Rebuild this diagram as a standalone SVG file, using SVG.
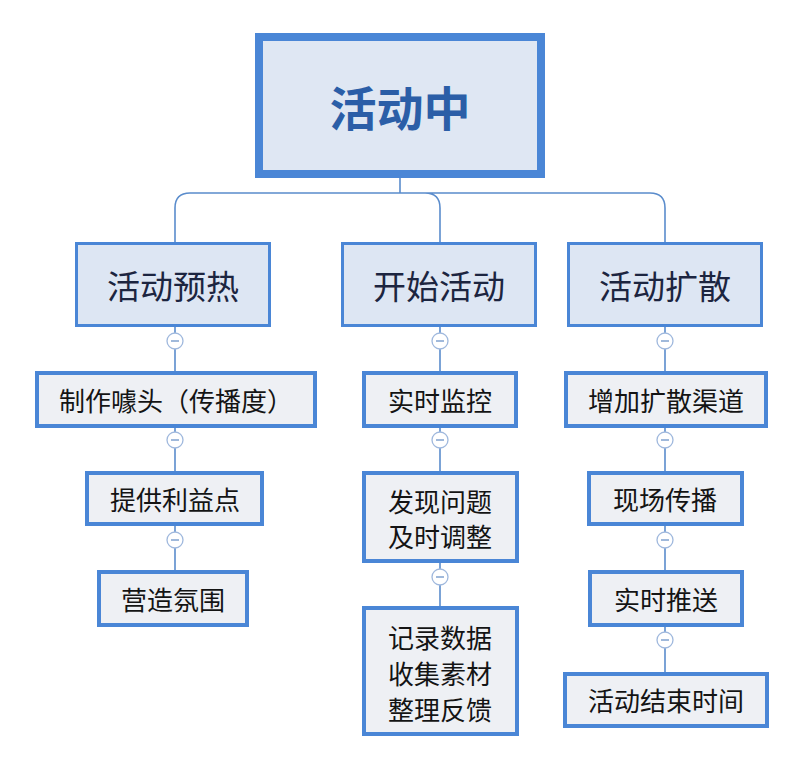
<svg xmlns="http://www.w3.org/2000/svg" width="802" height="768" viewBox="0 0 802 768">
<style>
text{font-family:"Noto Sans CJK SC","Noto Sans",sans-serif;text-anchor:middle;dominant-baseline:central}
.root{fill:#dfe7f3;stroke:#4a86d6;stroke-width:8}
.l1{fill:#dde6f3;stroke:#4a86d6;stroke-width:3}
.l2{fill:#eef0f4;stroke:#4a86d6;stroke-width:4}
.t0{font-size:47px;font-weight:bold;fill:#2b5ea7}
.t1{font-size:33px;fill:#1c2540}
.t2{font-size:26px;fill:#141414}
.ln{fill:none;stroke:#5a8ccc;stroke-width:1.6}
.cb circle{fill:#fff;stroke:#9fb8dd;stroke-width:1.3}
.cb line{stroke:#6d93c8;stroke-width:1.3}
</style>
<rect width="802" height="768" fill="#fff"/>
<g id="connectors">
<path class="ln" d="M400 178V193M190 193H650M190 193Q175 193 175 208V243M650 193Q665 193 665 208V243M425 193Q440 193 440 208V243"/>
<path class="ln" d="M175 326V371M175 427V471M175 525V570"/>
<path class="ln" d="M440 326V371M440 427V471M440 562V606"/>
<path class="ln" d="M665 326V371M665 427V471M665 525V570M665 626V672"/>
</g>
<g class="cb" id="collapse-buttons">
<g><circle cx="175" cy="341" r="8"/><line x1="171" y1="341" x2="179" y2="341"/></g>
<g><circle cx="175" cy="440" r="8"/><line x1="171" y1="440" x2="179" y2="440"/></g>
<g><circle cx="175" cy="540" r="8"/><line x1="171" y1="540" x2="179" y2="540"/></g>
<g><circle cx="440" cy="341" r="8"/><line x1="436" y1="341" x2="444" y2="341"/></g>
<g><circle cx="440" cy="440" r="8"/><line x1="436" y1="440" x2="444" y2="440"/></g>
<g><circle cx="440" cy="577" r="8"/><line x1="436" y1="577" x2="444" y2="577"/></g>
<g><circle cx="665" cy="341" r="8"/><line x1="661" y1="341" x2="669" y2="341"/></g>
<g><circle cx="665" cy="440" r="8"/><line x1="661" y1="440" x2="669" y2="440"/></g>
<g><circle cx="665" cy="540" r="8"/><line x1="661" y1="540" x2="669" y2="540"/></g>
<g><circle cx="665" cy="640" r="8"/><line x1="661" y1="640" x2="669" y2="640"/></g>
</g>
<g id="root"><rect class="root" x="259" y="37" width="282" height="137"/><text class="t0" x="400" y="105">活动中</text></g>
<g id="n-yure"><rect class="l1" x="76.5" y="243.5" width="193" height="82"/><text class="t1" x="173" y="285">活动预热</text></g>
<g id="n-kaishi"><rect class="l1" x="342.5" y="243.5" width="193" height="82"/><text class="t1" x="439" y="285">开始活动</text></g>
<g id="n-kuosan"><rect class="l1" x="568.5" y="243.5" width="193" height="82"/><text class="t1" x="665" y="285">活动扩散</text></g>
<g id="n-zhizuo"><rect class="l2" x="37" y="373" width="278" height="53"/><text class="t2" x="176" y="399">制作噱头（传播度）</text></g>
<g id="n-tigong"><rect class="l2" x="87" y="473" width="175" height="51"/><text class="t2" x="175" y="498">提供利益点</text></g>
<g id="n-yingzao"><rect class="l2" x="99" y="572" width="148" height="53"/><text class="t2" x="173" y="598">营造氛围</text></g>
<g id="n-jiankong"><rect class="l2" x="364" y="373" width="152" height="53"/><text class="t2" x="440" y="399">实时监控</text></g>
<g id="n-faxian"><rect class="l2" x="364" y="473" width="153" height="88"/><text class="t2" x="440" y="500">发现问题</text><text class="t2" x="440" y="535">及时调整</text></g>
<g id="n-jilu"><rect class="l2" x="364" y="608" width="153" height="126"/><text class="t2" x="440" y="636">记录数据</text><text class="t2" x="440" y="672">收集素材</text><text class="t2" x="440" y="708">整理反馈</text></g>
<g id="n-zengjia"><rect class="l2" x="566" y="373" width="200" height="53"/><text class="t2" x="666" y="399">增加扩散渠道</text></g>
<g id="n-xianchang"><rect class="l2" x="589" y="473" width="153" height="51"/><text class="t2" x="665" y="498">现场传播</text></g>
<g id="n-tuisong"><rect class="l2" x="590" y="572" width="152" height="53"/><text class="t2" x="666" y="598">实时推送</text></g>
<g id="n-jieshu"><rect class="l2" x="565" y="674" width="202" height="52"/><text class="t2" x="666" y="699">活动结束时间</text></g>
</svg>
